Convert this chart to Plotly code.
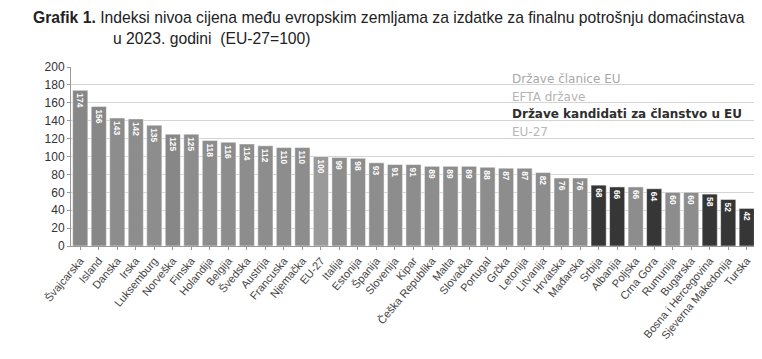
import plotly.graph_objects as go

countries = ["Švajcarska", "Island", "Danska", "Irska", "Luksemburg", "Norveška", "Finska",
             "Holandija", "Belgija", "Švedska", "Austrija", "Francuska", "Njemačka", "EU-27",
             "Italija", "Estonija", "Španija", "Slovenija", "Kipar", "Češka Republika", "Malta",
             "Slovačka", "Portugal", "Grčka", "Letonija", "Litvanija", "Hrvatska", "Mađarska",
             "Srbija", "Albanija", "Poljska", "Crna Gora", "Rumunija", "Bugarska",
             "Bosna i Hercegovina", "Sjeverna Makedonija", "Turska"]
values = [174, 156, 143, 142, 135, 125, 125, 118, 116, 114, 112, 110, 110, 100,
          99, 98, 93, 91, 91, 89, 89, 89, 88, 87, 87, 82, 76, 76,
          68, 66, 66, 64, 60, 60, 58, 52, 42]
groups = ["EFTA", "EFTA", "EU", "EU", "EU", "EFTA", "EU", "EU", "EU", "EU", "EU", "EU", "EU", "EU27",
          "EU", "EU", "EU", "EU", "EU", "EU", "EU", "EU", "EU", "EU", "EU", "EU", "EU", "EU",
          "CAND", "CAND", "EU", "CAND", "EU", "EU", "CAND", "CAND", "CAND"]
y_ticks = [0, 20, 40, 60, 80, 100, 120, 140, 160, 180, 200]

group_colors = {"EU": "#8d8d8d", "EFTA": "#878787", "EU27": "#9a9a9a", "CAND": "#363636"}
legend_items = [("Države članice EU", "#a8a8a8", False),
                ("EFTA države", "#b4b4b4", False),
                ("Države kandidati za članstvo u EU", "#2e2e2e", True),
                ("EU-27", "#b8b8b8", False)]

title_line1 = "<b>Grafik 1.</b> Indeksi nivoa cijena među evropskim zemljama za izdatke za finalnu potrošnju domaćinstava"
title_line2 = "u 2023. godini  (EU-27=100)"

fig = go.Figure()
fig.add_trace(go.Bar(
    x=countries, y=values,
    marker=dict(color=[group_colors[g] for g in groups], line=dict(color="white", width=0.5)),
    text=[f"<b>{v}</b>" for v in values], textposition="inside", insidetextanchor="end",
    textangle=90, textfont=dict(color="white", size=11, family="Liberation Sans"),
    showlegend=False, cliponaxis=False,
))

for i, (txt, col, bold) in enumerate(legend_items):
    fig.add_annotation(
        x=0.641, y=0.935 - i * 0.1, xref="paper", yref="paper",
        xanchor="left", yanchor="middle", showarrow=False,
        text=f"<b>{txt}</b>" if bold else txt,
        font=dict(size=12, color=col, family="DejaVu Sans"),
    )

fig.add_annotation(
    x=-0.058, y=1.274, xref="paper", yref="paper", xanchor="left", yanchor="middle",
    showarrow=False, text=title_line1,
    font=dict(size=15.7, color="#222", family="Liberation Sans"))
fig.add_annotation(
    x=0.058, y=1.16, xref="paper", yref="paper", xanchor="left", yanchor="middle",
    showarrow=False, text=title_line2,
    font=dict(size=15.7, color="#222", family="Liberation Sans"))

fig.update_layout(
    width=762, height=359,
    margin=dict(l=63, r=14, t=59, b=121),
    paper_bgcolor="white", plot_bgcolor="white",
    bargap=0.18,
    font=dict(family="Liberation Sans", color="#333"),
    xaxis=dict(tickangle=-50, tickfont=dict(size=11, color="#444"), showline=True,
               linecolor="#999", ticks="outside", ticklen=3, tickcolor="#999",
               showgrid=False),
    yaxis=dict(range=[0, 200], tickvals=y_ticks, tickfont=dict(size=12, color="#333"),
               showline=True, linecolor="#999", ticks="outside", ticklen=3, tickcolor="#999",
               gridcolor="#d4d4d4", gridwidth=1, zeroline=False),
)

fig.write_html("out.html")
